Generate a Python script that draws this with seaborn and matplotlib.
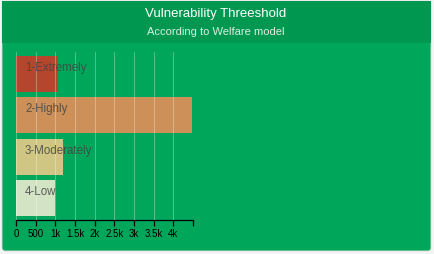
import matplotlib
matplotlib.use("Agg")
import matplotlib.pyplot as plt
from matplotlib.patches import FancyBboxPatch, Rectangle
import seaborn as sns
import pandas as pd

categories = ["1-Extremely", "2-Highly", "3-Moderately", "4-Low"]
values = [1070, 4480, 1190, 990]
bar_colors = ["#b5462d", "#cc9058", "#cfc683", "#d3e4c5"]
tick_values = [0, 500, 1000, 1500, 2000, 2500, 3000, 3500, 4000, 4500]
tick_labels = ["0", "500", "1k", "1.5k", "2k", "2.5k", "3k", "3.5k", "4k", ""]
title = "Vulnerability Threeshold"
subtitle = "According to Welfare model"

sns.set_style("white")
plt.rcParams["font.family"] = ["Liberation Sans", "DejaVu Sans"]

W, H = 434, 255
fig = plt.figure(figsize=(W / 100, H / 100), dpi=100)
fig.patch.set_facecolor("#f4f4f4")

bg = fig.add_axes([0, 0, 1, 1], zorder=-5)
bg.set_xlim(0, W)
bg.set_ylim(H, 0)
bg.axis("off")
bg.add_patch(FancyBboxPatch((2, 2), 429, 250,
                            boxstyle="round,pad=0,rounding_size=3",
                            facecolor="#00a65a", edgecolor="#dddddd",
                            linewidth=0.6))
bg.add_patch(Rectangle((2.3, 2.3), 428.4, 42, facecolor="#009851",
                       edgecolor="none"))
bg.text(216, 14, title, color="white", fontsize=9.5, ha="center", va="center")
bg.text(216, 32, subtitle, color="#d8f0e0", fontsize=8, ha="center", va="center")

ax = fig.add_axes([16 / W, 1 - 221 / H, 177 / W, 168 / H], zorder=1)
ax.set_facecolor("none")

df = pd.DataFrame({"category": categories, "value": values})
sns.barplot(data=df, x="value", y="category", hue="category",
            palette=bar_colors, orient="h", width=0.87, ax=ax,
            legend=False, saturation=1, zorder=1, edgecolor="none", linewidth=0)

ax.set_xlim(0, 4500)
ax.set_ylim(3.53, -0.53)

for v in tick_values[:-1]:
    ax.axvline(v, color="white", alpha=0.3, linewidth=0.8, zorder=3)

for i, c in enumerate(categories):
    ax.text(230, i - 0.17, c, color="#444444", alpha=0.85, fontsize=8.3,
            ha="left", va="center", zorder=4)

ax.set_xticks(tick_values)
ax.set_xticklabels(tick_labels, fontsize=7, color="black")
ax.set_yticks([])
ax.set_xlabel("")
ax.set_ylabel("")
for s in ["top", "right", "left"]:
    ax.spines[s].set_visible(False)
ax.spines["bottom"].set_color("black")
ax.spines["bottom"].set_linewidth(0.9)
ax.tick_params(axis="x", bottom=True, direction="out", length=4, width=0.9,
               color="black", pad=2)

fig.savefig("out.png", dpi=100, facecolor=fig.get_facecolor())
